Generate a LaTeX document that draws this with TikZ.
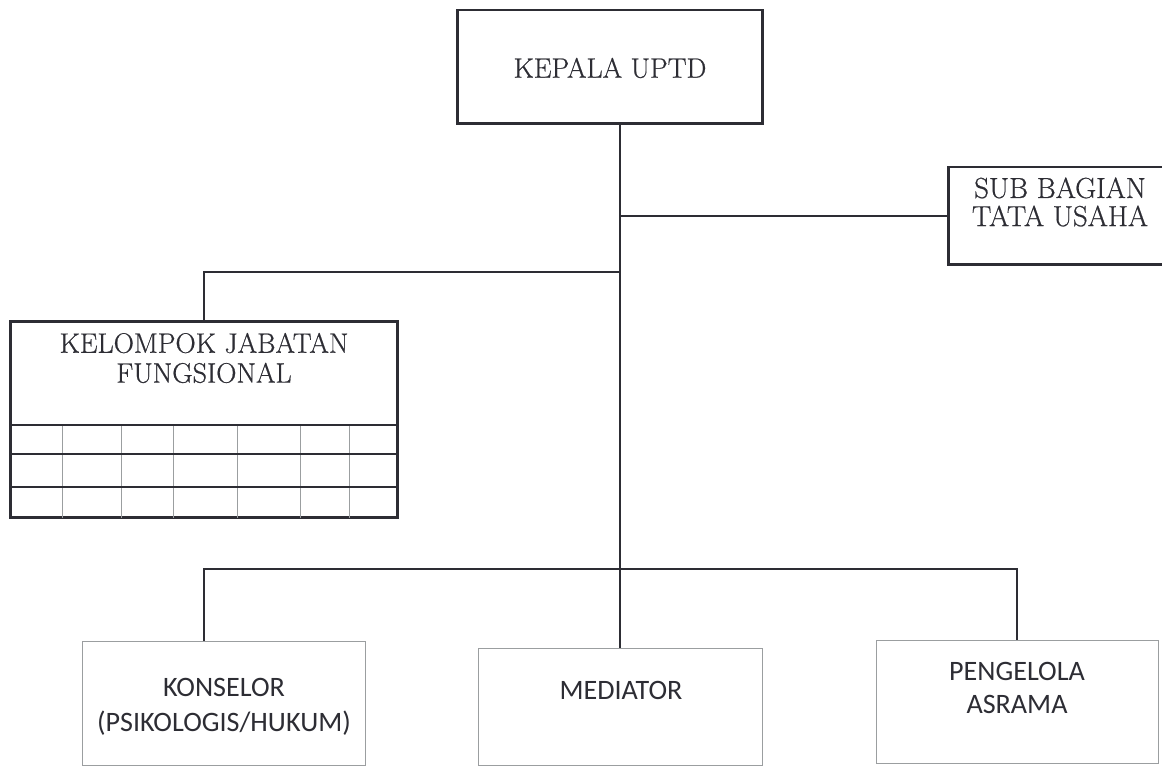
\documentclass[tikz,border=0pt]{standalone}
\usepackage{fontspec}
\newfontfamily\unitfont{Carlito}
\newfontfamily\headfont[FakeBold=0.6]{Latin Modern Roman}
\definecolor{orgline}{RGB}{45,45,52}
\definecolor{orgthin}{RGB}{155,158,160}
\usetikzlibrary{positioning}

\begin{document}
\begin{tikzpicture}[x=0.02cm, y=-0.02cm,
  headbox/.style={draw=orgline, line width=1.7pt, inner sep=0pt},
  unitbox/.style={draw=orgthin, line width=0.5pt, inner sep=0pt},
  headtext/.style={font=\headfont\fontsize{16}{17}\selectfont, align=center, text=orgline},
  unittext/.style={font=\unitfont\fontsize{16}{20}\selectfont, align=center, text=orgline},
  link/.style={draw=orgline, line width=1.1pt}]
  \useasboundingbox[fill=white] (0,0) rectangle (1162,766);
  % Head and staff boxes
  \node[headbox, minimum width=6.12cm, minimum height=2.28cm] (kepala) at (610,67) {};
  \node[headtext] (kepalatext) at (610,68) {KEPALA UPTD};
  \node[headbox, minimum width=4.34cm, minimum height=1.96cm] (subbag) at (1056.5,216) {};
  \node[headtext, font=\headfont\fontsize{16.5}{16}\selectfont] (subbagtext) at (1060,202) {SUB BAGIAN\\TATA USAHA};
  % Functional group with its table
  \node[headbox, minimum width=7.76cm, minimum height=3.94cm] (kelompok) at (204,419.5) {};
  \node[headtext] (kelompoktext) at (204,358) {KELOMPOK JABATAN\\FUNGSIONAL};
  \foreach \x in {62,121,173,237,300,349}
    \draw[orgthin, line width=0.4pt] (\x,425) -- (\x,518);
  \foreach \y in {425,454,487}
    \draw[orgline, line width=1.2pt] (10,\y) -- (398,\y);
  % Bottom units
  \node[unitbox, minimum width=5.66cm, minimum height=2.48cm] (konselor) at (223.5,703) {};
  \node[unittext] (konselortext) at (224,707) {KONSELOR\\(PSIKOLOGIS/HUKUM)};
  \node[unitbox, minimum width=5.68cm, minimum height=2.34cm] (mediator) at (620,706.5) {};
  \node[unittext] (mediatortext) at (621,690) {MEDIATOR};
  \node[unitbox, minimum width=5.64cm, minimum height=2.46cm] (pengelola) at (1017,701.5) {};
  \node[unittext, font=\unitfont\fontsize{16}{18.5}\selectfont] (pengelolatext) at (1017,688) {PENGELOLA\\ASRAMA};
  % Lines of command
  \coordinate (upper) at (620,272);
  \coordinate (lower) at (620,569);
  \draw[link] (kepala.south -| mediator.north) -- (mediator.north);
  \draw[link] (subbag.west -| mediator.north) -- (subbag.west);
  \draw[link] (upper) -| (kelompok.north);
  \draw[link] (kelompok.north |- konselor.north) |- (lower) -| (pengelola.north);
\end{tikzpicture}
\end{document}
